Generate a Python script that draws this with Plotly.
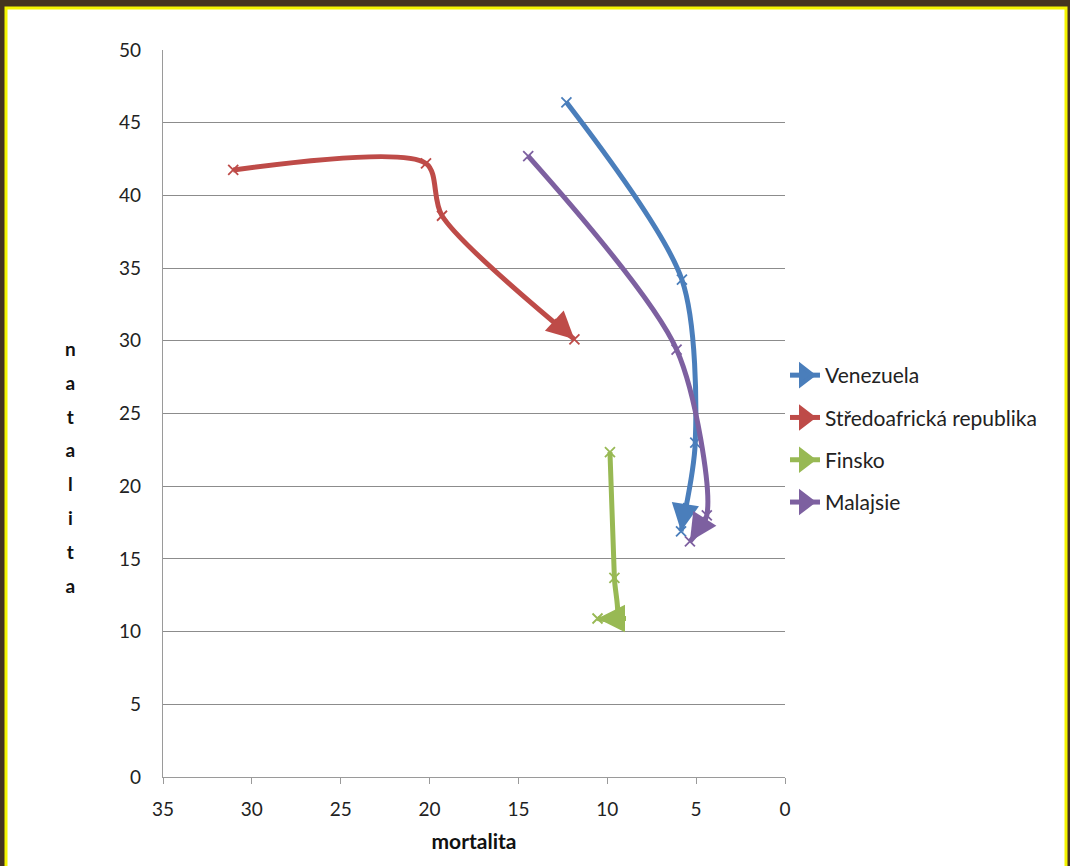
import math
import plotly.graph_objects as go

# Birth rate (natalita) versus death rate (mortalita), per 1000 inhabitants
countries = ["Venezuela", "Středoafrická republika", "Finsko", "Malajsie"]

venezuela_mort = [12.3, 5.8, 5.05, 5.85]
venezuela_nat = [46.4, 34.2, 23.0, 16.9]

sar_mort = [31.05, 20.2, 19.3, 11.85]
sar_nat = [41.75, 42.2, 38.6, 30.1]

finsko_mort = [9.85, 9.6, 9.5, 10.55]
finsko_nat = [22.35, 13.7, 10.9, 10.9]

malajsie_mort = [14.45, 6.1, 4.4, 5.35]
malajsie_nat = [42.7, 29.4, 18.0, 16.2]

x_ticks = [0, 5, 10, 15, 20, 25, 30, 35]
y_ticks = [0, 5, 10, 15, 20, 25, 30, 35, 40, 45, 50]

series_x = [venezuela_mort, sar_mort, finsko_mort, malajsie_mort]
series_y = [venezuela_nat, sar_nat, finsko_nat, malajsie_nat]
colors = ["#4A7EBB", "#BE4B48", "#98B954", "#7D60A0"]

X_RANGE = [35, 0]
Y_RANGE = [0, 50]

W, H = 1070, 866
ML, MR, MT, MB = 163, 285, 50, 89
PW, PH = W - ML - MR, H - MT - MB


def paper_x(px):
    return (px - ML) / PW


def paper_y(py):
    return (H - MB - py) / PH


FONT = "Lato, 'Open Sans', sans-serif"

fig = go.Figure()
arrows = []

for name, xs, ys, col in zip(countries, series_x, series_y, colors):
    # smoothed path
    fig.add_trace(go.Scatter(
        x=xs, y=ys, mode="lines",
        line=dict(color=col, width=5, shape="spline", smoothing=0.8),
        legendgroup=name, showlegend=False, hoverinfo="skip",
    ))
    # cross markers at every observation
    fig.add_trace(go.Scatter(
        x=xs, y=ys, mode="markers",
        marker=dict(symbol="x-thin", size=10, color=col,
                    line=dict(color=col, width=1.8)),
        legendgroup=name, showlegend=False, name=name,
    ))
    # legend key: line with an arrowhead
    fig.add_trace(go.Scatter(
        x=[None], y=[None], mode="lines+markers", name=name,
        line=dict(color=col, width=5),
        marker=dict(symbol="triangle-right", size=16, color=col,
                    line=dict(color=col, width=4)),
        legendgroup=name, showlegend=True,
    ))
    # arrowhead at the last observation, aligned with the last segment
    sx = PW / (X_RANGE[1] - X_RANGE[0])
    sy = -PH / (Y_RANGE[1] - Y_RANGE[0])
    dx = (xs[-2] - xs[-1]) * sx
    dy = (ys[-2] - ys[-1]) * sy
    d = math.hypot(dx, dy)
    back = 30
    arrows.append(dict(
        x=xs[-1], y=ys[-1], xref="x", yref="y",
        ax=dx / d * back, ay=dy / d * back,
        text="", showarrow=True, arrowhead=2, arrowsize=1.1,
        arrowwidth=5, arrowcolor=col, standoff=0,
    ))

letters = "natalita"
ytitle = "<br>".join(f'<span style="font-size:19px">{c}</span>' for c in letters)

fig.update_layout(
    width=W, height=H,
    margin=dict(l=ML, r=MR, t=MT, b=MB),
    paper_bgcolor="#45341f",
    plot_bgcolor="white",
    font=dict(family=FONT, size=19, color="#222222"),
    showlegend=True,
    legend=dict(
        x=paper_x(785), y=paper_y(355), xanchor="left", yanchor="top",
        bgcolor="rgba(0,0,0,0)", font=dict(family=FONT, size=21, color="#222222"),
        tracegroupgap=12, itemwidth=30,
    ),
    xaxis=dict(
        range=X_RANGE, tickvals=x_ticks, ticks="outside", ticklen=6,
        tickcolor="#9a9a9a", showline=True, linecolor="#9a9a9a", linewidth=1.3,
        showgrid=False, zeroline=False, ticklabelstandoff=9,
        tickfont=dict(family=FONT, size=19, color="#222222"),
        title=dict(text="mortalita", standoff=15,
                   font=dict(family=FONT, size=21, color="#111111", weight="bold")),
    ),
    yaxis=dict(
        range=Y_RANGE, tickvals=y_ticks, ticks="", showline=True,
        linecolor="#9a9a9a", linewidth=1.3, showgrid=True, gridcolor="#8c8c8c",
        gridwidth=1, zeroline=False, ticklabelstandoff=17,
        tickfont=dict(family=FONT, size=19, color="#222222"),
    ),
    shapes=[dict(
        type="rect", xref="paper", yref="paper", layer="below",
        x0=paper_x(6), x1=paper_x(1066), y0=paper_y(900), y1=paper_y(8),
        fillcolor="white", line=dict(color="#f5f500", width=3),
    )],
    annotations=arrows + [dict(
        text=ytitle, xref="paper", yref="paper",
        x=paper_x(70), y=paper_y(467), xanchor="center", yanchor="middle",
        showarrow=False, align="center",
        font=dict(family=FONT, size=26, color="#111111", weight="bold"),
    )],
)

fig.write_html("out.html")
